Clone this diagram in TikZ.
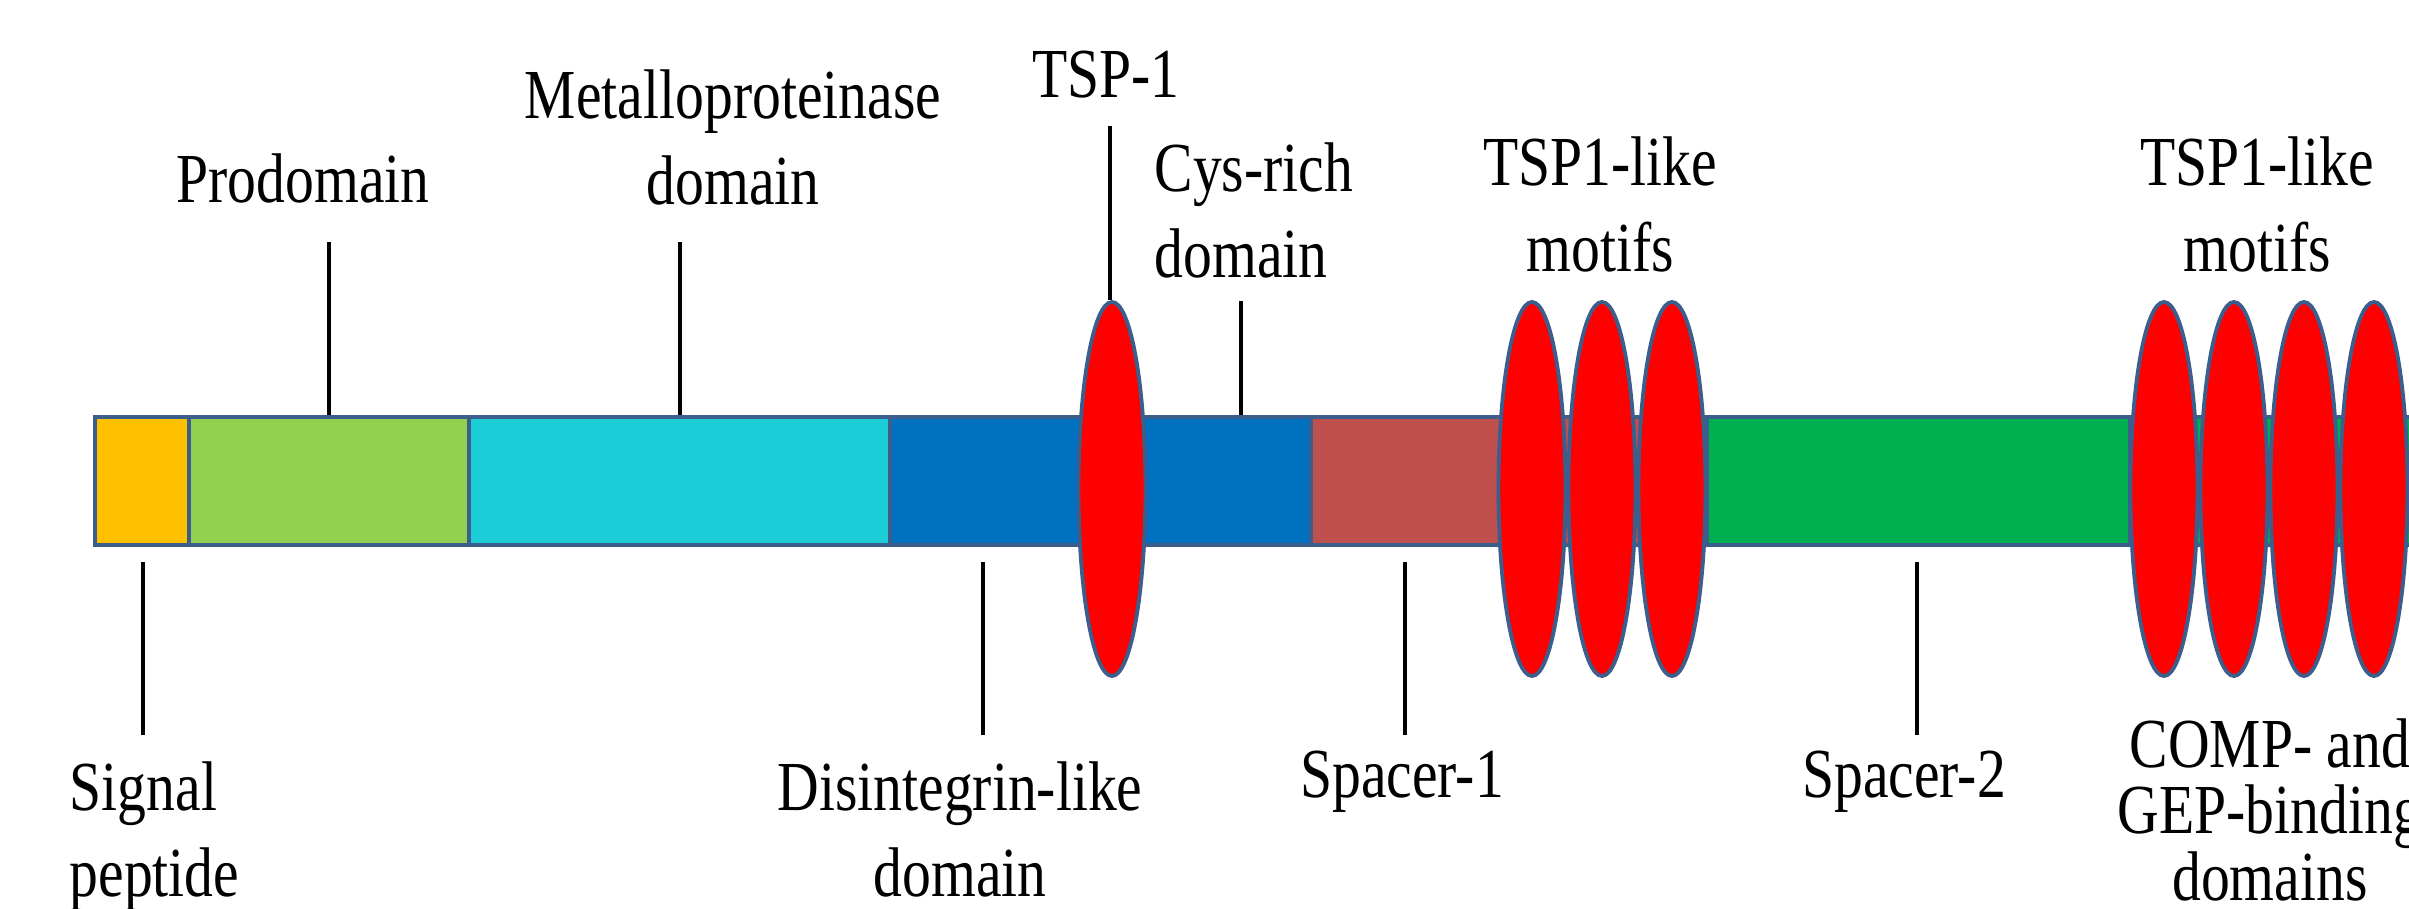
\documentclass[tikz,border=0pt]{standalone}
\usepackage{fontspec}
\setmainfont[FakeStretch=0.82]{Liberation Serif}
\usepackage{xcolor}
\usetikzlibrary{positioning, shapes.geometric}

\definecolor{sigcol}{HTML}{FFC000}
\definecolor{procol}{HTML}{92D050}
\definecolor{metcol}{HTML}{1BCDD6}
\definecolor{discol}{HTML}{0070C0}
\definecolor{sponecol}{HTML}{C0504D}
\definecolor{sptwocol}{HTML}{00B050}
\definecolor{edgecol}{HTML}{3B5E8C}

\begin{document}
\begin{tikzpicture}[
    seg/.style={draw=edgecol, line width=1.1pt, minimum height=1.28cm, inner sep=0pt},
    motif/.style={ellipse, draw=edgecol, line width=1.1pt, fill=red, minimum width=0.67cm, minimum height=3.74cm, inner sep=0pt},
    lbl/.style={font=\fontsize{20}{24.7}\selectfont, align=center, inner sep=0pt},
    lead/.style={line width=0.9pt}
]
    \useasboundingbox (0,0) rectangle (24.09,9.09);

    % Domain bar
    \node[seg, fill=sigcol, minimum width=0.94cm] (sig) at (1.42,4.28) {};
    \node[seg, fill=procol, minimum width=2.80cm] (pro) at (3.29,4.28) {};
    \node[seg, fill=metcol, minimum width=4.21cm] (metal) at (6.795,4.28) {};
    \node[seg, fill=discol, minimum width=2.22cm] (disin) at (10.01,4.28) {};
    \node[seg, fill=discol, minimum width=1.99cm] (cys) at (12.115,4.28) {};
    \node[seg, fill=sponecol, minimum width=3.96cm] (spc1) at (15.09,4.28) {};
    \node[seg, fill=sptwocol, minimum width=4.23cm] (spc2) at (19.185,4.28) {};
    \node[seg, fill=sptwocol, minimum width=3.00cm] (tail) at (22.80,4.28) {};

    % TSP1 repeats
    \node[motif] (tsp) at (11.12,4.20) {};
    \foreach \i/\x in {1/15.32, 2/16.02, 3/16.72}
        \node[motif] (ma\i) at (\x,4.20) {};
    \foreach \i/\x in {1/21.64, 2/22.34, 3/23.04, 4/23.74}
        \node[motif] (mb\i) at (\x,4.20) {};

    % Labels above
    \node[lbl, anchor=base] (lpro) at (3.03,7.06) {Prodomain};
    \node[lbl, anchor=base] (lmet) at (7.33,7.04) {Metalloproteinase\\domain};
    \node[lbl, anchor=base] (ltsp) at (11.06,8.11) {TSP-1};
    \node[lbl, anchor=base west, align=left] (lcys) at (11.54,6.31) {Cys-rich\\domain};
    \node[lbl, anchor=base] (lma) at (16.00,6.37) {TSP1-like\\motifs};
    \node[lbl, anchor=base] (lmb) at (22.57,6.37) {TSP1-like\\motifs};

    % Labels below
    \node[lbl, anchor=base west, align=left] (lsig) at (0.69,0.12) {Signal\\peptide};
    \node[lbl, anchor=base] (ldis) at (9.60,0.12) {Disintegrin-like\\domain};
    \node[lbl, anchor=base] (lspa) at (14.02,1.11) {Spacer-1};
    \node[lbl, anchor=base] (lspb) at (19.04,1.11) {Spacer-2};
    \node[lbl, anchor=base, font=\fontsize{20}{18.8}\selectfont] (lcomp) at (22.70,0.09) {COMP- and\\GEP-binding\\domains};

    % Leader lines
    \coordinate (tpro) at (3.29,6.67);
    \coordinate (tmet) at (6.80,6.67);
    \coordinate (ttsp) at (11.10,7.83);
    \coordinate (tcys) at (12.41,6.08);
    \coordinate (bsig) at (1.43,1.74);
    \coordinate (bdis) at (9.83,1.74);
    \coordinate (bspa) at (14.05,1.74);
    \coordinate (bspb) at (19.17,1.74);
    \draw[lead] (tpro) -- (tpro |- pro.north);
    \draw[lead] (tmet) -- (tmet |- metal.north);
    \draw[lead] (ttsp) -- (ttsp |- tsp.north);
    \draw[lead] (tcys) -- (tcys |- cys.north);
    \draw[lead] (bsig) -- ([yshift=-0.15cm]bsig |- sig.south);
    \draw[lead] (bdis) -- ([yshift=-0.15cm]bdis |- disin.south);
    \draw[lead] (bspa) -- ([yshift=-0.15cm]bspa |- spc1.south);
    \draw[lead] (bspb) -- ([yshift=-0.15cm]bspb |- spc2.south);
\end{tikzpicture}
\end{document}
